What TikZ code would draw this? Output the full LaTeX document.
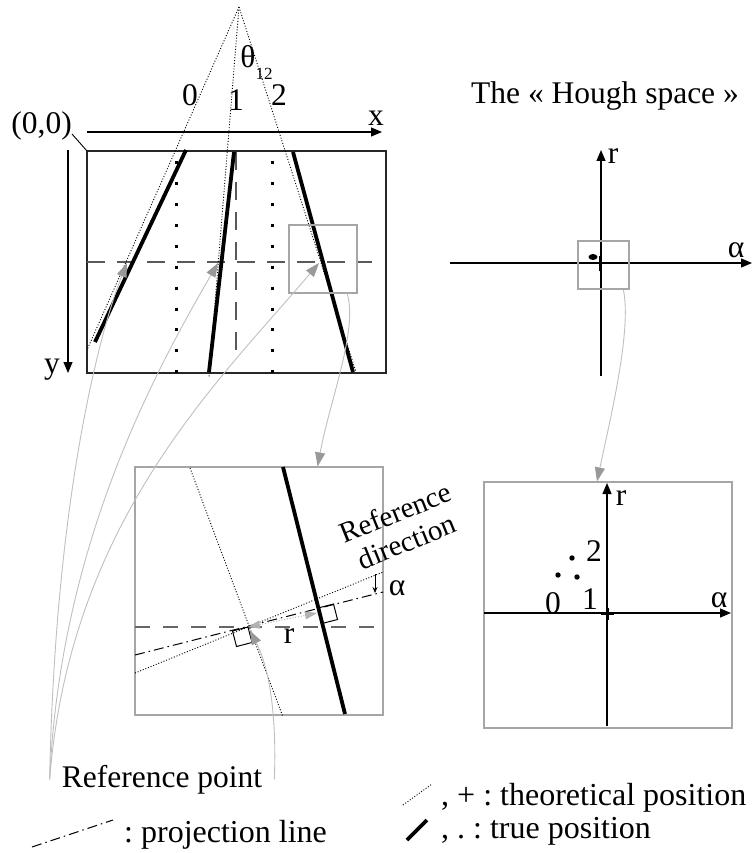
\documentclass[tikz,border=0pt]{standalone}
\usepackage{fontspec}
\setmainfont{Liberation Serif}
\usetikzlibrary{arrows.meta,calc}
\frenchspacing
\tikzset{
  frm/.style={draw=black!85,line width=1.2pt},
  grbox/.style={draw=black!35,line width=1.2pt,inner sep=0pt},
  truel/.style={line width=3.8pt},
  theol/.style={line width=0.9pt,dash pattern=on 1pt off 1.8pt},
  projl/.style={line width=1pt,dash pattern=on 10pt off 4pt on 1.5pt off 4pt},
  refdash/.style={line width=1.1pt,draw=black!65,dash pattern=on 18pt off 12pt},
  dotcol/.style={line width=3pt,dash pattern=on 3pt off 17.87pt},
  ax/.style={-{Triangle[length=11pt,width=9pt]},line width=1.2pt},
  lnk/.style={-{Triangle[length=14pt,width=10pt,color=black!40]},draw=black!25,line width=0.9pt},
  lbl/.style={inner sep=0pt},
  plusmark/.style={line width=2.2pt},
}
\newcommand{\legfont}{\fontsize{32}{36}\selectfont}

\begin{document}
\begin{tikzpicture}[x=1pt,y=-1pt,font=\fontsize{31.5}{36}\selectfont]
  \useasboundingbox (0,0) rectangle (754,853);
  % image plane
  \coordinate (O) at (87,151);
  \coordinate (apex) at (239,7);
  \draw[frm] (O) rectangle (386,373);
  \draw[ax] (87,132) -- (382,132);
  \draw[ax] (68,150) -- (68,373);
  \node[lbl] (xlab) at (376,118) {x};
  \node[lbl] (ylab) at (52,370) {y};
  \node[lbl,anchor=base east] (orig) at (72,134) {(0,0)};
  \draw[line width=0.9pt] (orig.base east) -- (O);
  \foreach \x in {176,272} \draw[dotcol] (\x,161.5) -- (\x,373);
  \draw[refdash] (236,152) -- (236,360);
  \draw[refdash] (87,262) -- (372,262);
  \coordinate (t0) at (87,350);
  \coordinate (t1) at (209,377);
  \coordinate (t2) at (356,372);
  \foreach \i in {0,1,2} \draw[theol] (apex) -- (t\i);
  \draw[truel] (186,150) -- (95,342);
  \draw[truel] (234,152) -- (209,372);
  \draw[truel] (293,152) -- (353,372);
  \node[lbl] (n0) at (190,95) {0};
  \node[lbl] (n1) at (236,100) {1};
  \node[lbl] (n2) at (279,95) {2};
  \node[lbl] (theta) at (248,57) {θ};
  \node[lbl,font=\fontsize{17}{18}\selectfont] (thsub) at (264,74) {12};
  \node[grbox,minimum width=68pt,minimum height=68pt] (zsrc) at (323,259) {};
  \coordinate (c0) at (127,263);
  \coordinate (c1) at (218,263);
  \coordinate (c2) at (319,263);
  % zoom on line 2
  \node[grbox,minimum width=248pt,minimum height=248pt] (zbox) at (259,591) {};
  \coordinate (R) at (248,627);
  \coordinate (P) at (318,608);
  \draw[refdash,draw=black!60,dash pattern=on 15pt off 13pt] (135,627) -- (383,627);
  \draw[theol] (190,468) -- (283,717);
  \draw[truel] (283,467) -- (345,714);
  \draw[theol] (135,673) -- (383,572);
  \draw[projl] (135,655) -- (383,592);
  \draw[line width=1pt] (R) -- ++(-15.5,4) -- ++(4,15.5) -- ++(15.5,-4) -- cycle;
  \draw[line width=1pt] (P) -- ++(15.5,-4) -- ++(4,15.5) -- ++(-15.5,4) -- cycle;
  \draw[{Triangle[length=12pt,width=8pt]}-{Triangle[length=12pt,width=8pt]},black!30,line width=1pt,dash pattern=on 1pt off 1.8pt] (R) -- ($(P)+(-1,5)$);
  \node[lbl] (rlab) at (289,636) {r};
  \node[lbl,rotate=22,align=center,font=\fontsize{29}{31}\selectfont] (refdir) at (401,527) {Reference\\direction};
  \draw[-{Stealth[length=6pt,width=5pt]},line width=0.9pt] (375,574) -- (375,593);
  \node[lbl] (alab) at (397,588) {α};
  % Hough space
  \node[lbl,anchor=base] (title) at (605,104) {The « Hough space »};
  \draw[ax] (450,263) -- (752,263);
  \draw[ax] (601,376) -- (601,150);
  \node[lbl] (hr) at (613,156) {r};
  \node[lbl] (ha) at (736,250) {α};
  \node[grbox,minimum width=51pt,minimum height=48pt] (hsrc) at (603.5,265) {};
  \fill (593,257) ellipse (4.5pt and 3pt);
  \draw[plusmark] (593,263) -- (608,263) (600.5,256) -- (600.5,271);
  \node[grbox,minimum width=248pt,minimum height=246pt] (hbox) at (608,605) {};
  \draw[ax] (484,613) -- (731,613);
  \draw[ax] (607,726) -- (607,483);
  \node[lbl] (br) at (621,498) {r};
  \node[lbl] (ba) at (719,600) {α};
  \foreach \p in {(558,575),(572,558),(577,577)} \fill \p circle (2.7pt);
  \node[lbl] (h0) at (553,603) {0};
  \node[lbl] (h1) at (590,599) {1};
  \node[lbl] (h2) at (594,551) {2};
  \draw[plusmark] (601,614) -- (614,614) (607.5,608) -- (607.5,620);
  % links
  \node[lbl,inner xsep=12pt,anchor=base] (refpt) at (162,787) {Reference point};
  \draw[lnk] (refpt.west) .. controls (55,500) and (100,330) .. (c0);
  \draw[lnk] (refpt.west) .. controls (60,550) and (150,380) .. (c1);
  \draw[lnk] (refpt.west) .. controls (70,520) and (220,380) .. (c2);
  \draw[lnk,shorten >=4pt] (refpt.east) .. controls (277,710) and (268,665) .. (R);
  \draw[lnk] ($(zsrc.south)!0.7!(zsrc.south east)$) .. controls (358,330) and (330,400) .. ($(zbox.north)!0.47!(zbox.north east)$);
  \draw[lnk] ($(hsrc.south)!0.76!(hsrc.south east)$) .. controls (632,330) and (610,420) .. ($(hbox.north)+(-11,0)$);
  % legend
  \draw[theol] (403,805) -- (432,784);
  \draw[truel] (407,840) -- (427,820);
  \draw[projl] (32,847) -- (113,820);
  \node[lbl,anchor=base west] (legtheo) at (441,805) {\legfont , + : theoretical position};
  \node[lbl,anchor=base west] (legtrue) at (441,838) {\legfont , . : true position};
  \node[lbl,anchor=base west] (legproj) at (124,842) {\legfont : projection line};
\end{tikzpicture}
\end{document}
